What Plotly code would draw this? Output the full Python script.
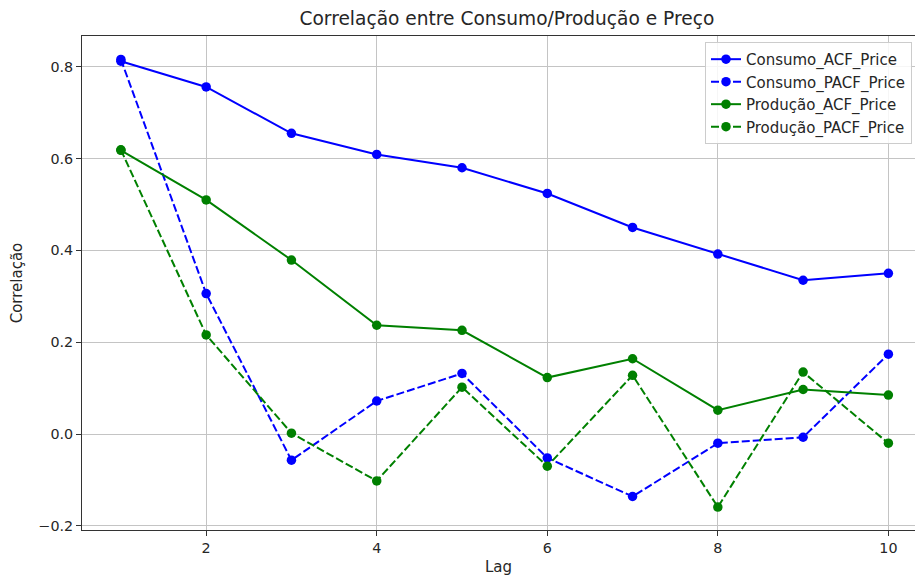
import plotly.graph_objects as go

lags = [1, 2, 3, 4, 5, 6, 7, 8, 9, 10]

consumo_acf = [0.812, 0.756, 0.655, 0.609, 0.580, 0.524, 0.450, 0.392, 0.335, 0.350]
consumo_pacf = [0.816, 0.306, -0.057, 0.072, 0.132, -0.052, -0.136, -0.020, -0.007, 0.174]
producao_acf = [0.618, 0.510, 0.379, 0.237, 0.226, 0.123, 0.164, 0.052, 0.097, 0.085]
producao_pacf = [0.619, 0.216, 0.002, -0.102, 0.102, -0.070, 0.128, -0.159, 0.135, -0.020]

y_ticks = [-0.2, 0.0, 0.2, 0.4, 0.6, 0.8]
x_ticks = [2, 4, 6, 8, 10]

series = [
    ("Consumo_ACF_Price", consumo_acf, "#0000ff", "solid"),
    ("Consumo_PACF_Price", consumo_pacf, "#0000ff", "8px,3px"),
    ("Produção_ACF_Price", producao_acf, "#008000", "solid"),
    ("Produção_PACF_Price", producao_pacf, "#008000", "8px,3px"),
]

fig = go.Figure()
for name, vals, color, dash in series:
    fig.add_trace(go.Scatter(
        x=lags, y=vals, name=name, mode="lines+markers",
        line=dict(color=color, width=2, dash=dash),
        marker=dict(color=color, size=9.5, line=dict(width=0)),
    ))

font_family = "DejaVu Sans, sans-serif"
text_color = "#262626"
axis_common = dict(
    showline=True, linecolor="#333333", linewidth=1,
    showgrid=True, gridcolor="#c4c4c4", gridwidth=1,
    zeroline=False, ticks="outside", ticklen=5, tickcolor="#333333",
    tickfont=dict(family=font_family, size=14.3, color=text_color),
)

fig.update_layout(
    width=915, height=576,
    margin=dict(l=82, r=0, t=36, b=46),
    paper_bgcolor="white", plot_bgcolor="white",
    font=dict(family=font_family, size=14, color=text_color),
    title=dict(
        text="Correlação entre Consumo/Produção e Preço",
        x=0.554, xanchor="center", y=0.968, yanchor="middle",
        font=dict(family=font_family, size=18.6, color=text_color),
    ),
    xaxis=dict(
        range=[0.544, 10.312], tickvals=x_ticks, mirror=True,
        title=dict(text="Lag", font=dict(family=font_family, size=15), standoff=7),
        **axis_common,
    ),
    yaxis=dict(
        range=[-0.209, 0.867], tickvals=y_ticks, tickformat=".1f", mirror=False,
        title=dict(text="Correlação", font=dict(family=font_family, size=15), standoff=12),
        **axis_common,
    ),
    legend=dict(
        x=0.9964, xanchor="right", y=0.988, yanchor="top",
        bgcolor="rgba(255,255,255,0.85)", bordercolor="#cccccc", borderwidth=1,
        font=dict(family=font_family, size=15, color=text_color),
        tracegroupgap=0, itemwidth=30,
    ),
    showlegend=True,
)

fig.write_html("out.html")
